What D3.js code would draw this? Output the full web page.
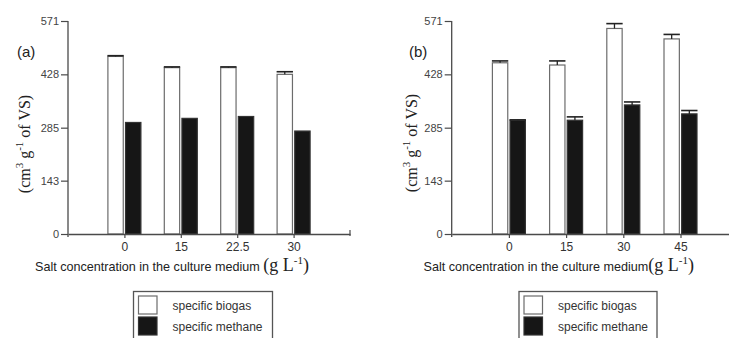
<!DOCTYPE html>
<html>
<head>
<meta charset="utf-8">
<script src="https://cdn.jsdelivr.net/npm/d3@7/dist/d3.min.js"></script>
<style>
  html, body { margin: 0; padding: 0; background: #fff; }
  svg { display: block; }
</style>
</head>
<body>
<svg id="chart" width="729" height="338"></svg>
<script>
// Salt concentrations (g/L) for each experiment
const concA = ["0", "15", "22.5", "30"];
const concB = ["0", "15", "30", "45"];

// Specific biogas / methane yields (cm3 per g VS) with upper error bars
const biogasA = [476, 446, 446, 428];
const biogasErrA = [2, 2, 2, 7];
const methaneA = [299, 310, 315, 276];
const methaneErrA = [0, 0, 0, 0];

const biogasB = [459, 453, 551, 523];
const biogasErrB = [5, 11, 13, 12];
const methaneB = [305, 305, 346, 322];
const methaneErrB = [1, 9, 8, 9];

const yTicks = [0, 143, 285, 428, 571];
const seriesNames = ["specific biogas", "specific methane"];

const svg = d3.select("#chart");
const SANS = "'Liberation Sans', Arial, sans-serif";
const SERIF = "'Liberation Serif', 'Times New Roman', serif";
const AXIS = "#4a4a4a";

const yTop = 21, yBottom = 234;
const y = d3.scaleLinear().domain([0, 571]).range([yBottom, yTop]);

function panel(opt) {
  const g = svg.append("g");
  const x = d3.scalePoint().domain(opt.cats).range([opt.x0, opt.x1]).padding(1);
  const sub = d3.scaleBand().domain(["biogas", "methane"]).range([-16.5, 16.5]).paddingInner(0.13);

  // y axis
  const ya = g.append("g").attr("transform", `translate(${opt.x0},0)`)
    .call(d3.axisLeft(y).tickValues(yTicks).tickSize(7).tickSizeOuter(0).tickPadding(2));
  ya.select(".domain").remove();
  ya.selectAll(".tick line").attr("stroke", AXIS).attr("stroke-width", 1.2);
  ya.selectAll(".tick text").attr("font-family", SANS).attr("font-size", 11).attr("fill", "#444");
  g.append("line").attr("x1", opt.x0).attr("x2", opt.x0)
    .attr("y1", y(571)).attr("y2", y(0) + 3)
    .attr("stroke", AXIS).attr("stroke-width", 1.3);

  // bars
  const rows = opt.cats.map((c, i) => ({
    c,
    vals: [
      { k: "biogas", v: opt.biogas[i], e: opt.biogasErr[i] },
      { k: "methane", v: opt.methane[i], e: opt.methaneErr[i] }
    ]
  }));
  const grp = g.selectAll(".grp").data(rows).join("g")
    .attr("transform", d => `translate(${x(d.c)},0)`);
  grp.selectAll("rect").data(d => d.vals).join("rect")
    .attr("x", d => sub(d.k))
    .attr("width", sub.bandwidth())
    .attr("y", d => y(d.v))
    .attr("height", d => y(0) - y(d.v))
    .attr("fill", d => d.k === "biogas" ? "#ffffff" : "#161616")
    .attr("stroke", d => d.k === "biogas" ? "#6c6c6c" : "#333")
    .attr("stroke-width", 1.2);

  // upper error bars
  const eb = grp.selectAll(".err").data(d => d.vals.filter(v => v.e > 0)).join("g").attr("class", "err");
  eb.append("line")
    .attr("x1", d => sub(d.k) + sub.bandwidth() / 2)
    .attr("x2", d => sub(d.k) + sub.bandwidth() / 2)
    .attr("y1", d => y(d.v)).attr("y2", d => y(d.v + d.e))
    .attr("stroke", "#222").attr("stroke-width", 1.3);
  eb.append("line")
    .attr("x1", d => sub(d.k) - 0.5)
    .attr("x2", d => sub(d.k) + sub.bandwidth() + 0.5)
    .attr("y1", d => y(d.v + d.e)).attr("y2", d => y(d.v + d.e))
    .attr("stroke", "#222").attr("stroke-width", 1.6);

  // x axis
  const xa = g.append("g").attr("transform", `translate(0,${yBottom})`)
    .call(d3.axisBottom(x).tickSize(4).tickSizeOuter(0).tickPadding(4));
  xa.select(".domain").attr("stroke", AXIS).attr("stroke-width", 1.3);
  xa.selectAll(".tick line").attr("stroke", AXIS).attr("stroke-width", 1.2);
  xa.selectAll(".tick text").attr("font-family", SANS).attr("font-size", 12).attr("fill", "#333");
  g.append("line").attr("x1", opt.x1).attr("x2", opt.x1)
    .attr("y1", yBottom - 4).attr("y2", yBottom + 2)
    .attr("stroke", AXIS).attr("stroke-width", 1.2);

  // panel letter
  g.append("text").attr("x", opt.letterX).attr("y", 57)
    .attr("font-family", SANS).attr("font-size", 15).attr("fill", "#222")
    .text(opt.letter);

  // y axis title
  const yt = g.append("text")
    .attr("transform", `translate(${opt.yTitleX},${opt.yTitleY}) rotate(-90)`)
    .attr("text-anchor", "middle")
    .attr("font-family", SERIF).attr("font-size", 16).attr("fill", "#222");
  yt.append("tspan").text("(cm");
  yt.append("tspan").attr("font-size", 11).attr("dy", -7).text("3");
  yt.append("tspan").attr("dy", 7).text(" g");
  yt.append("tspan").attr("font-size", 11).attr("dy", -7).text("-1");
  yt.append("tspan").attr("dy", 7).text(" of VS)");

  // x axis title
  const xt = g.append("text").attr("x", opt.xTitleX).attr("y", 271)
    .attr("font-family", SANS).attr("font-size", 12.6).attr("fill", "#222");
  xt.append("tspan").text("Salt concentration in the culture medium" + opt.gap);
  xt.append("tspan").attr("font-family", SERIF).attr("font-size", 18).text("(g L");
  xt.append("tspan").attr("font-family", SERIF).attr("font-size", 11).attr("dy", -7).text("-1");
  xt.append("tspan").attr("font-family", SERIF).attr("font-size", 18).attr("dy", 7).text(")");

  // legend
  const lg = g.append("g").attr("transform", `translate(${opt.legX},291.5)`);
  lg.append("rect").attr("x", 0).attr("y", 0).attr("width", opt.legW).attr("height", 60)
    .attr("fill", "#fff").attr("stroke", "#555").attr("stroke-width", 1.3);
  const items = lg.selectAll(".li").data(seriesNames).join("g")
    .attr("transform", (d, i) => `translate(0,${4.5 + i * 21})`);
  items.append("rect").attr("x", 5).attr("y", 0).attr("width", 18.5).attr("height", 18)
    .attr("fill", (d, i) => i === 0 ? "#fff" : "#161616")
    .attr("stroke", (d, i) => i === 0 ? "#6c6c6c" : "#333").attr("stroke-width", 1.2);
  items.append("text").attr("x", 39).attr("y", 13.5)
    .attr("font-family", SANS).attr("font-size", 12).attr("fill", "#333")
    .text(d => d);
}

panel({
  cats: concA, biogas: biogasA, biogasErr: biogasErrA, methane: methaneA, methaneErr: methaneErrA,
  x0: 68, x1: 350, letter: "(a)", letterX: 17, yTitleX: 30, yTitleY: 144,
  xTitleX: 35, gap: " ", legX: 133.5, legW: 139
});
panel({
  cats: concB, biogas: biogasB, biogasErr: biogasErrB, methane: methaneB, methaneErr: methaneErrB,
  x0: 451.7, x1: 737.7, letter: "(b)", letterX: 409, yTitleX: 417, yTitleY: 143,
  xTitleX: 423.5, gap: "", legX: 519, legW: 138
});
</script>
</body>
</html>
